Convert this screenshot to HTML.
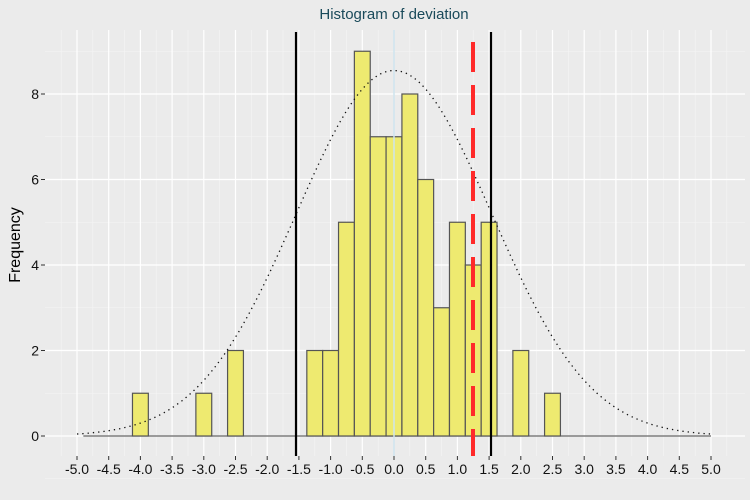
<html><body style="margin:0;background:#ebebeb">
<svg width="750" height="500" xmlns="http://www.w3.org/2000/svg" font-family="Liberation Sans, sans-serif">
<rect width="750" height="500" fill="#ebebeb"/>
<text x="394" y="19" text-anchor="middle" font-size="15" fill="#1a4a5a">Histogram of deviation</text>
<text transform="translate(20,245) rotate(-90)" text-anchor="middle" font-size="16">Frequency</text>
<g id="g"></g>
</svg>
<script>
const ns="http://www.w3.org/2000/svg",g=document.getElementById('g');
function el(t,a){const e=document.createElementNS(ns,t);for(const k in a)e.setAttribute(k,a[k]);g.appendChild(e);return e;}
const X=v=>394+v*63.4, Y=v=>436-v*42.75;
const L=45,R=745,T=30,B=456;
for(let v=-5.25;v<=5.3;v+=0.5)el('line',{x1:X(v),x2:X(v),y1:T,y2:B,stroke:'#f5f5f5','stroke-width':0.6});
for(let v=-1;v<=9;v+=2)el('line',{x1:L,x2:R,y1:Y(v),y2:Y(v),stroke:'#f5f5f5','stroke-width':0.6});
for(let i=-10;i<=10;i++){const v=i/2;el('line',{x1:X(v),x2:X(v),y1:T,y2:B,stroke:'#fff','stroke-width':1.2});
el('line',{x1:X(v),x2:X(v),y1:B,y2:B+4,stroke:'#333'});
const t=el('text',{x:X(v),y:B+18,'text-anchor':'middle','font-size':14,fill:'#111'});t.textContent=v.toFixed(1);}
for(let v=0;v<=8;v+=2){el('line',{x1:L,x2:R,y1:Y(v),y2:Y(v),stroke:'#fff','stroke-width':1.2});
el('line',{x1:L-4,x2:L,y1:Y(v),y2:Y(v),stroke:'#333'});
const t=el('text',{x:L-6,y:Y(v)+5,'text-anchor':'end','font-size':14,fill:'#111'});t.textContent=v;}
el('line',{x1:X(-4.9),x2:X(5),y1:Y(0),y2:Y(0),stroke:'#666','stroke-width':1.2});
const bars=[[-4,1],[-3,1],[-2.5,2],[-1.25,2],[-1,2],[-0.75,5],[-0.5,9],[-0.25,7],[0,7],[0.25,8],[0.5,6],[0.75,3],[1,5],[1.25,4],[1.5,5],[2,2],[2.5,1]];
bars.forEach(([c,n])=>el('rect',{x:X(c-0.125),y:Y(n),width:63.4*0.25,height:n*42.75,fill:'#eeea70',stroke:'#555','stroke-width':1.2}));
el('line',{x1:X(0),x2:X(0),y1:T,y2:B,stroke:'#cde4ee','stroke-width':1.5});
let d='';for(let v=-5;v<=5.001;v+=0.05){d+=(d?'L':'M')+X(v).toFixed(1)+','+Y(8.55*Math.exp(-v*v/(2*2.39))).toFixed(1);}
el('path',{d:d,fill:'none',stroke:'#111','stroke-width':1.3,'stroke-dasharray':'1.3 4'});
el('line',{x1:296,x2:296,y1:T+2,y2:B,stroke:'#000','stroke-width':2.2});
el('line',{x1:491,x2:491,y1:T+2,y2:B,stroke:'#000','stroke-width':2.2});
el('line',{x1:473,x2:473,y1:42,y2:B,stroke:'#ff2a2a','stroke-width':4,'stroke-dasharray':'30 13'});
</script>
</body></html>
